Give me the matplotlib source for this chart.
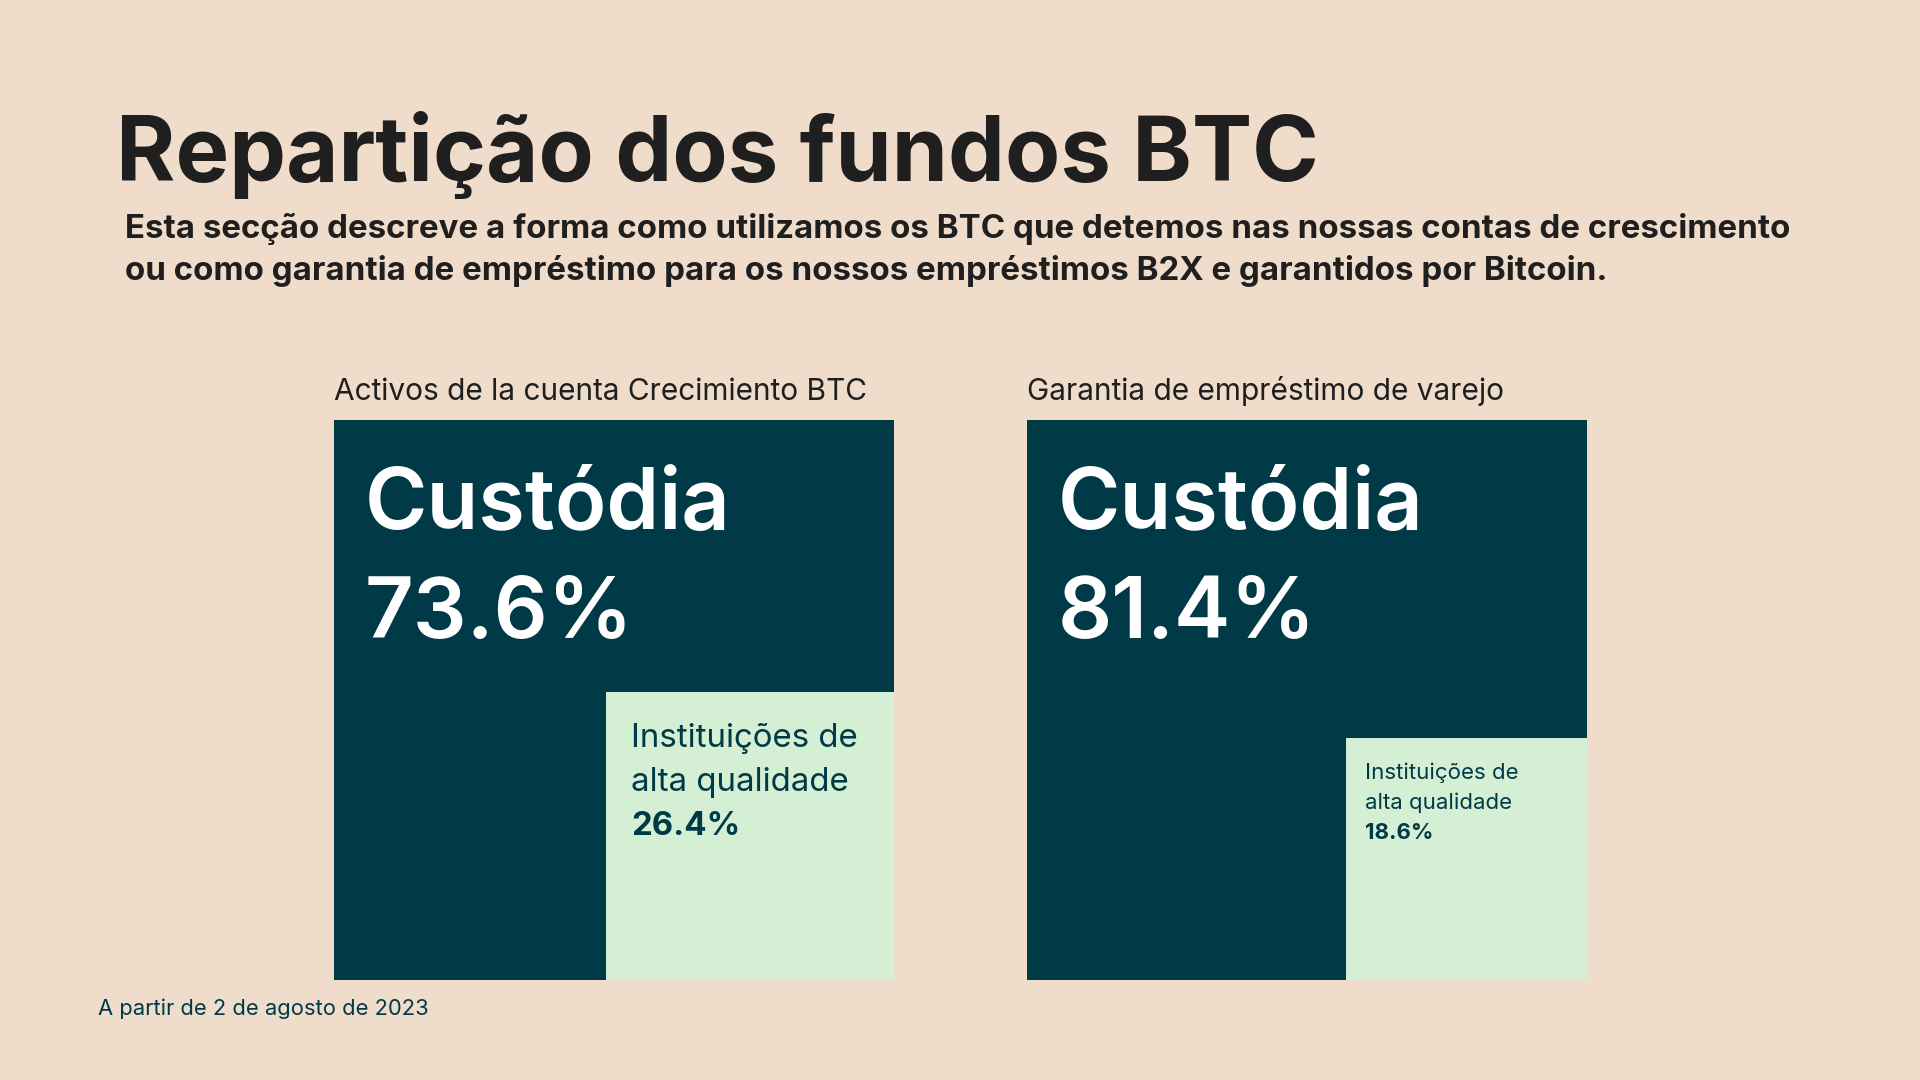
import matplotlib
matplotlib.use("Agg")
import matplotlib.pyplot as plt
from matplotlib.patches import Rectangle

# dados
painels = ["Activos de la cuenta Crecimiento BTC", "Garantia de empréstimo de varejo"]
custodia = [73.6, 81.4]
instituicoes = [26.4, 18.6]
rotulo_grande = "Custódia"
rotulo_pequeno = ["Instituições de", "alta qualidade"]

BG = "#F0DCCA"
ESCURO = "#003A47"
CLARO = "#D4EFD3"
TXT = "#1F1F1F"

plt.rcParams["font.family"] = ["Inter", "DejaVu Sans"]

fig = plt.figure(figsize=(19.2, 10.8), dpi=100, facecolor=BG)
ax = fig.add_axes([0, 0, 1, 1])
ax.set_xlim(0, 1568)
ax.set_ylim(882, 0)
ax.axis("off")

ax.text(95, 148, "Repartição dos fundos BTC", fontsize=65, fontweight="bold",
        color=TXT, va="baseline")
ax.text(102, 194, "Esta secção descreve a forma como utilizamos os BTC que detemos nas nossas contas de crescimento",
        fontsize=23.8, fontweight="bold", color=TXT, va="baseline")
ax.text(102, 229, "ou como garantia de empréstimo para os nossos empréstimos B2X e garantidos por Bitcoin.",
        fontsize=23.8, fontweight="bold", color=TXT, va="baseline")

lado = 457
x0s = [273, 839]
y0 = 343
for i in range(2):
    x0 = x0s[i]
    ax.text(x0, 327, painels[i], fontsize=21.5, color=TXT, va="baseline")
    ax.add_patch(Rectangle((x0, y0), lado, lado, color=ESCURO, lw=0))
    s = lado * (instituicoes[i] / 100) ** 0.5
    ax.add_patch(Rectangle((x0 + lado - s, y0 + lado - s), s, s, color=CLARO, lw=0))
    ax.text(x0 + 25, 432, rotulo_grande, fontsize=61, fontweight="semibold", color="white", va="baseline")
    ax.text(x0 + 25, 521, f"{custodia[i]}%", fontsize=61, fontweight="semibold", color="white", va="baseline")
    fs = 23.8 if i == 0 else 16
    lh = 36 if i == 0 else 24.5
    tx = x0 + lado - s + (20 if i == 0 else 16)
    ty = y0 + lado - s + (45 if i == 0 else 33)
    for k, linha in enumerate(rotulo_pequeno):
        ax.text(tx, ty + k * lh, linha, fontsize=fs, color=ESCURO, va="baseline")
    ax.text(tx, ty + 2 * lh, f"{instituicoes[i]}%", fontsize=fs, fontweight="bold", color=ESCURO, va="baseline")

ax.text(80, 829, "A partir de 2 de agosto de 2023", fontsize=15.8, color=ESCURO, va="baseline")

fig.savefig("out.png", dpi=100, facecolor=BG)
